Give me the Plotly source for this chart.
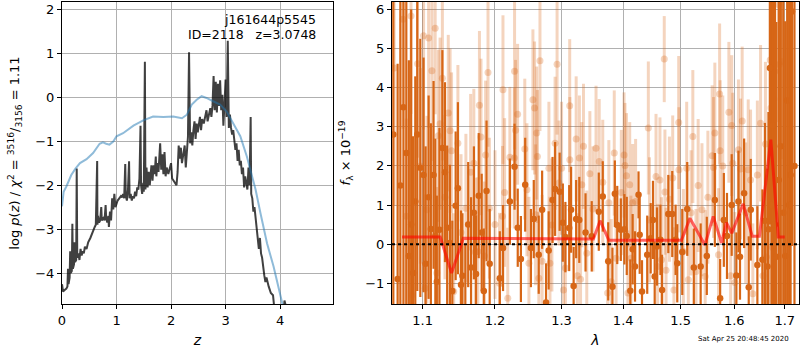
import plotly.graph_objects as go
import math

# ---------------- left panel data ----------------
z_pz = [0.00,0.02,0.05,0.08,0.10,0.11,0.12,0.14,0.15,0.16,0.18,0.19,0.20,0.22,0.23,0.24,0.26,0.27,0.28,0.30,
        0.32,0.34,0.36,0.38,0.40,0.42,0.45,0.48,0.52,0.56,0.60,0.62,0.645,0.65,0.66,0.68,0.70,0.72,0.73,0.76,
        0.78,0.80,0.81,0.83,0.85,0.86,0.88,0.90,0.92,0.94,0.96,0.98,1.00,1.02,1.05,1.08,1.10,1.12,1.14,1.16,
        1.17,1.19,1.21,1.23,1.24,1.26,1.28,1.30,1.32,1.34,1.36,1.38,1.40,1.42,1.44,1.45,1.47,1.49,1.50,1.52,
        1.53,1.55,1.57,1.59,1.61,1.63,1.64,1.66,1.68,1.70,1.72,1.73,1.75,1.77,1.79,1.80,1.82,1.84,1.86,1.88,
        1.90,1.92,1.95,1.98,2.00,2.02,2.05,2.08,2.10,2.12,2.14,2.16,2.18,2.20,2.22,2.25,2.27,2.29,2.31,2.33,
        2.35,2.37,2.39,2.41,2.43,2.45,2.47,2.49,2.51,2.53,2.55,2.57,2.60,2.63,2.65,2.67,2.70,2.72,2.74,2.76,
        2.78,2.80,2.82,2.84,2.86,2.88,2.90,2.92,2.94,2.96,2.98,3.00,3.02,3.04,3.06,3.08,3.10,3.12,3.14,3.16,
        3.18,3.20,3.22,3.24,3.26,3.28,3.30,3.32,3.34,3.36,3.38,3.40,3.42,3.44,3.46,3.47,3.49,3.51,3.53,3.55,
        3.57,3.59,3.61,3.63,3.65,3.67,3.69,3.71,3.73,3.75,3.79,3.83,3.87,3.89,3.90,4.05,4.08,4.10,4.12]
logp_pz = [-4.25,-4.42,-4.38,-4.35,-4.30,-3.90,-4.25,-4.10,-3.50,-4.00,-3.95,-2.88,-3.90,-3.80,-3.30,-3.75,-3.70,-1.62,-3.65,-3.55,
           -3.70,-3.45,-3.60,-3.50,-3.55,-3.40,-3.45,-3.30,-3.20,-3.05,-2.95,-2.90,-1.45,-2.90,-2.70,-2.85,-2.80,-2.50,-2.80,-2.75,
           -2.80,-2.45,-2.75,-2.85,-2.70,-2.95,-2.60,-2.80,-2.30,-2.55,-2.20,-2.50,-2.40,-2.35,-2.30,-2.25,-2.28,-2.20,-2.30,-1.52,
           -2.25,-2.35,-2.10,-1.46,-2.30,-2.20,-2.35,-2.25,-2.30,-2.15,-2.25,-2.05,-2.10,-1.85,-0.65,-2.00,-2.20,-1.95,-2.15,0.80,
           -2.10,-1.60,-2.05,-1.70,-2.00,-1.60,-1.55,-1.90,-1.55,-1.75,-1.35,-1.80,-1.50,-1.70,-1.40,-1.05,-1.65,-1.30,-1.75,-1.25,
           -1.80,-1.60,-1.75,-1.55,-1.50,-1.85,-1.90,-1.95,-2.00,-1.70,-1.10,-1.40,-1.15,-1.50,-1.35,-1.10,-1.60,-1.20,-0.90,1.02,
           -1.05,-0.80,-1.10,-0.75,-0.55,-0.95,-0.60,-0.80,-0.65,-0.45,-0.75,-0.50,-0.60,-0.45,-0.30,-0.55,-0.40,-0.25,-0.45,-0.20,
           0.48,-0.30,0.35,-0.35,0.30,-0.20,0.38,-0.30,0.05,-0.65,-0.15,0.40,-0.45,1.28,-0.70,-0.40,-0.70,-0.85,-0.75,-1.00,
           -1.20,-1.05,-1.45,-1.20,-1.55,-1.45,-1.75,-1.60,-2.05,-1.80,-1.95,-2.10,-1.60,-2.00,-0.45,-2.20,-2.30,-2.60,-2.50,-2.75,
           -3.00,-3.25,-3.45,-3.20,-3.55,-3.65,-3.90,-4.05,-4.20,-4.10,-4.30,-4.45,-4.50,-4.75,-5.20,-5.20,-4.62,-4.72,-5.20]

z_model = [0.00,0.03,0.08,0.17,0.25,0.33,0.45,0.57,0.69,0.75,0.81,0.87,0.94,1.00,1.12,1.31,1.49,1.67,1.86,2.04,
           2.20,2.29,2.38,2.47,2.56,2.65,2.78,2.90,3.02,3.14,3.27,3.39,3.48,3.55,3.64,3.76,3.88,3.97,4.05,4.10]
logp_model = [-2.48,-2.15,-2.03,-1.77,-1.62,-1.50,-1.41,-1.27,-1.06,-1.03,-1.06,-1.08,-1.01,-0.89,-0.82,-0.65,-0.53,-0.44,-0.45,-0.44,
              -0.48,-0.40,-0.17,-0.06,0.02,-0.02,-0.10,-0.17,-0.33,-0.59,-0.89,-1.35,-1.80,-2.10,-2.64,-3.32,-3.85,-4.30,-4.70,-5.00]

# ---------------- right panel data ----------------
d_wave = [1.062,1.0675,1.071,1.075,1.0787,1.082,1.085,1.0875,1.0904,1.093,1.097,1.1013,1.104,1.108,1.111,1.1146,1.117,1.119,1.1225,1.1265,
          1.130,1.133,1.1367,1.140,1.1446,1.1477,1.152,1.154,1.158,1.162,1.166,1.170,1.173,1.1768,1.181,1.184,1.1879,1.1924,
          1.207,1.2117,1.2217,1.2286,1.2333,1.238,1.2444,1.253,1.2573,1.2648,1.270,1.276,1.280,1.286,1.290,1.297,1.302,1.306,
          1.312,1.315,1.319,1.323,1.328,1.338,1.348,1.3595,1.366,1.375,1.382,1.386,1.390,1.396,1.402,1.406,1.412,1.416,1.420,
          1.426,1.428,1.432,1.441,1.447,1.451,1.454,1.458,1.464,1.467,1.478,1.485,1.491,1.494,1.503,1.512,1.524,1.5366,1.548,
          1.563,1.573,1.580,1.586,1.595,1.604,1.608,1.611,1.619,1.628,1.632,1.645,1.655,1.660,1.665,1.667,1.670,1.673,1.676,
          1.680,1.683,1.688,1.692,1.697,1.701,1.705,1.709,1.712,1.715,1.720]
d_flux = [2.8,-0.89,1.5,3.5,2.33,-0.3,0.5,-0.74,1.09,2.8,1.95,1.77,-0.5,1.2,0.39,1.77,0.2,-0.96,0.37,2.46,
          1.84,0.42,0.03,-1.2,0.98,1.43,-1.04,-0.81,-2.0,0.5,-0.6,0.8,-0.76,1.24,0.3,-1.2,1.36,-0.5,
          -0.87,-0.1,1.09,1.98,0.42,-0.38,1.52,-0.1,0.64,-0.27,0.88,-1.49,-0.16,1.13,1.41,1.34,0.55,0.18,
          0.41,0.88,-1.07,0.64,0.62,0.3,0.2,0.83,1.22,-0.44,-1.09,1.29,0.49,0.37,0.38,0.21,-1.19,-0.13,-0.57,
          1.26,0.24,-1.21,-0.27,0.15,0.62,-0.83,-0.06,0.11,-1.17,0.77,0.77,0.11,-0.49,-0.2,0.9,-0.6,-0.57,-0.3,
          1.13,-1.38,0.62,0.21,1.0,-0.8,1.09,-0.32,1.3,-1.1,0.88,-0.53,-0.4,0.6,-0.57,0.38,4.5,1.0,3.03,
          0.5,-0.32,1.64,2.5,0.8,-0.3,3.67,1.0,1.77,5.95,2.0]
d_err = [6.0,5.5,6.0,5.5,4.5,5.0,5.5,3.5,3.2,4.0,3.3,3.0,3.0,2.6,2.7,2.4,2.5,2.2,2.6,2.5,
         2.3,2.1,2.0,1.8,1.9,2.2,1.9,1.6,2.0,1.6,1.8,1.7,1.5,1.6,1.5,1.6,1.8,1.4,
         1.2,1.1,1.1,1.1,1.0,1.1,1.2,1.0,1.0,1.0,1.0,1.0,1.0,1.1,1.2,1.0,1.0,0.9,
         1.1,1.1,1.0,1.0,1.1,1.0,0.9,1.0,0.9,1.0,1.0,0.85,1.0,0.8,0.9,1.0,0.8,0.9,0.9,
         0.6,1.0,0.8,1.0,0.9,1.0,0.9,1.0,0.9,0.9,1.0,1.1,0.9,1.0,1.1,1.2,1.0,1.1,1.0,
         1.2,1.0,1.2,1.1,1.3,1.1,1.3,1.1,1.4,1.3,1.3,1.5,1.8,2.5,2.5,3.0,4.0,5.5,5.0,
         6.0,6.0,6.0,6.0,6.0,6.0,6.0,6.0,6.0,6.0,6.0]

l_wave = [1.063,1.0744,1.0787,1.0848,1.086,1.0934,1.097,1.1013,1.1036,1.1058,1.108,1.1124,1.1168,1.119,1.121,1.1234,1.1265,1.130,1.1345,1.137,
          1.139,1.142,1.1477,1.152,1.1588,1.1654,1.1699,1.172,1.1755,1.1778,1.180,1.185,1.1866,1.190,1.192,1.200,1.2066,1.2109,1.2116,1.214,
          1.2186,1.2217,1.2282,1.2286,1.2301,1.2331,1.2438,1.247,1.250,1.256,1.2585,1.260,1.2617,1.2628,1.265,1.2667,1.270,1.2804,1.282,1.285,
          1.2899,1.293,1.296,1.300,1.303,1.306,1.3128,1.313,1.323,1.325,1.3282,1.330,1.332,1.3347,1.340,1.345,1.350,1.355,1.3602,1.366,
          1.374,1.376,1.380,1.385,1.388,1.3968,1.4014,1.403,1.4055,1.408,1.411,1.413,1.416,1.421,1.4429,1.445,1.4563,1.459,1.4632,1.466,
          1.4708,1.472,1.474,1.480,1.4858,1.488,1.4966,1.497,1.505,1.511,1.514,1.519,1.5222,1.528,1.532,1.539,1.545,1.550,1.558,1.5605,
          1.563,1.570,1.572,1.573,1.578,1.5896,1.593,1.595,1.597,1.601,1.608,1.612,1.6152,1.622,1.627,1.6316,1.636,1.645,1.6513,1.656,
          1.661,1.663,1.6706,1.672,1.675,1.678,1.680,1.688,1.689,1.693]
l_flux = [4.5,5.75,0.71,5.83,-1.3,4.61,2.0,5.33,-1.13,0.88,5.27,4.43,5.52,-0.74,2.77,3.08,4.24,1.2,3.35,2.9,
          2.39,-1.21,2.58,0.3,0.92,1.84,2.07,-0.2,-0.19,3.55,2.74,-0.3,2.28,4.39,0.92,0.5,-1.0,0.71,3.95,1.32,
          -1.38,2.22,2.2,4.42,2.91,3.32,2.43,1.39,-0.49,3.69,3.48,0.75,2.84,2.24,-0.87,4.69,-0.44,1.94,-0.49,0.49,
          2.58,4.6,1.56,1.94,-1.17,-0.61,3.54,2.16,2.69,-0.81,2.2,-0.9,1.52,2.5,-0.23,1.8,0.9,2.45,2.11,1.58,
          -1.25,1.06,-0.96,2.33,-0.36,1.32,2.28,2.01,1.75,-1.25,1.52,-0.36,1.06,1.09,2.97,0.62,1.73,-0.57,1.64,-0.4,
          4.73,1.33,-0.67,1.15,1.69,-1.17,3.11,1.9,-0.19,1.94,-0.91,0.8,2.75,-0.7,1.5,0.88,-0.83,1.2,2.26,1.96,
          2.84,-0.27,3.84,2.39,2.0,3.37,-0.81,3.03,2.07,-0.98,2.41,1.92,3.15,0.8,1.9,1.64,-1.27,1.77,3.09,-0.81,
          2.56,-0.33,4.71,3.48,-0.08,3.71,4.42,6.12,4.59,4.67]
l_err = [3.5,2.8,2.5,2.5,2.5,2.4,2.5,2.4,2.4,2.4,2.3,2.3,2.2,2.2,2.2,2.2,2.1,2.1,2.0,2.1,
         2.0,2.0,2.0,2.0,1.9,2.0,1.9,1.9,1.9,1.9,2.0,1.9,1.9,1.9,1.8,1.9,1.8,1.8,1.9,1.9,
         1.8,1.8,1.8,2.0,1.8,1.8,1.8,1.7,1.7,1.8,1.7,1.8,1.7,1.7,1.7,1.8,1.7,1.7,1.7,1.7,
         1.7,1.8,1.6,1.7,1.6,1.6,1.7,1.6,1.6,1.6,1.6,1.6,1.6,1.6,1.6,1.6,1.6,1.6,1.6,1.6,
         1.6,1.6,1.6,1.6,1.6,1.6,1.6,1.6,1.6,1.6,1.6,1.6,1.5,1.6,1.7,1.6,1.6,1.6,1.6,1.6,
         1.1,1.6,1.6,1.6,1.6,1.6,1.7,1.6,1.6,1.7,1.6,1.6,1.7,1.6,1.7,1.7,1.7,1.7,1.8,1.8,
         1.8,1.7,1.8,1.8,1.8,1.8,1.8,1.8,1.8,1.8,1.8,1.8,1.9,1.8,1.8,1.8,1.8,1.9,2.0,1.9,
         2.1,2.1,2.2,2.3,2.5,2.5,2.5,3.0,2.5,2.5]

m_wave = [1.0731,1.1236,1.139,1.1552,1.3507,1.3616,1.376,1.5015,1.5169,1.5445,1.560,1.5758,1.585,1.595,1.6172,1.635,1.649,1.6718,1.687,1.700]
m_flux = [0.18,0.18,-0.74,0.15,0.13,0.60,0.10,0.10,0.66,-0.02,0.71,0.03,0.55,0.28,1.03,0.20,0.20,2.67,0.18,0.18]

lam_ticks = [1.1, 1.2, 1.3, 1.4, 1.5, 1.6, 1.7]
lam_range = [1.0603, 1.7294]
z_range = [0, 4.97]
lp_range = [-4.70, 2.16]
f_range = [-1.53, 6.19]

DARK = "rgb(215,102,22)"
LIGHT = "rgba(215,102,22,0.28)"
FONT = "DejaVu Sans"
GRID = "#b0b0b0"

fig = go.Figure()

# left panel
fig.add_trace(go.Scatter(x=z_pz, y=logp_pz, mode="lines", line=dict(color="rgba(0,0,0,0.75)", width=2),
                         xaxis="x", yaxis="y", showlegend=False, hoverinfo="skip"))
fig.add_trace(go.Scatter(x=z_model, y=logp_model, mode="lines", line=dict(color="rgba(31,119,180,0.5)", width=2),
                         xaxis="x", yaxis="y", showlegend=False, hoverinfo="skip"))

# right panel
fig.add_trace(go.Scatter(x=l_wave, y=l_flux, mode="markers",
                         marker=dict(color=LIGHT, size=7, line=dict(width=0)),
                         error_y=dict(type="data", array=l_err, color=LIGHT, thickness=3, width=0),
                         xaxis="x2", yaxis="y2", showlegend=False, hoverinfo="skip"))
fig.add_trace(go.Scatter(x=d_wave, y=d_flux, mode="markers",
                         marker=dict(color=DARK, size=6.5, line=dict(width=0)),
                         error_y=dict(type="data", array=d_err, color=DARK, thickness=2.2, width=0),
                         xaxis="x2", yaxis="y2", showlegend=False, hoverinfo="skip"))
fig.add_trace(go.Scatter(x=m_wave, y=m_flux, mode="lines", line=dict(color="rgba(255,0,0,0.6)", width=3),
                         xaxis="x2", yaxis="y2", showlegend=False, hoverinfo="skip"))

fig.add_shape(type="line", xref="x2 domain", yref="y2", x0=0, x1=1, y0=0, y1=0,
              line=dict(color="black", width=2, dash="dot"), layer="above")

axis_common = dict(showgrid=True, gridcolor=GRID, gridwidth=1, zeroline=False,
                   showline=True, linecolor="black", linewidth=1, mirror=True,
                   ticks="outside", ticklen=4, tickcolor="black", automargin=False,
                   tickfont=dict(family=FONT, size=13, color="black"))

ydom = [1 - 304/350, 1 - 2/350]
fig.update_layout(
    width=800, height=350,
    margin=dict(l=0, r=0, t=0, b=0, autoexpand=False),
    paper_bgcolor="white", plot_bgcolor="white",
    font=dict(family=FONT, color="black"),
    xaxis=dict(domain=[62/800, 333/800], range=z_range, anchor="y",
               tickvals=[0, 1, 2, 3, 4],
               title=dict(text="<i>z</i>", font=dict(family=FONT, size=14), standoff=8),
               **axis_common),
    yaxis=dict(domain=ydom, range=lp_range, anchor="x",
               tickvals=[-4, -3, -2, -1, 0, 1, 2],
               title=dict(text="log <i>p</i>(<i>z</i>) / <i>χ</i><sup>2</sup> = <sup>3516</sup>/<sub>3156</sub> = 1.11",
                          font=dict(family=FONT, size=13), standoff=12),
               **axis_common),
    xaxis2=dict(domain=[392/800, 799/800], type="log",
                range=[math.log10(lam_range[0]), math.log10(lam_range[1])], anchor="y2",
                tickvals=lam_ticks, ticktext=[f"{t:.1f}" for t in lam_ticks],
                title=dict(text="<i>λ</i>", font=dict(family=FONT, size=14), standoff=8),
                **axis_common),
    yaxis2=dict(domain=ydom, range=f_range, anchor="x2",
                tickvals=[-1, 0, 1, 2, 3, 4, 5, 6],
                title=dict(text="<i>f</i><sub>λ</sub> × 10<sup>−19</sup>", font=dict(family=FONT, size=13), standoff=11),
                **axis_common),
)

fig.add_annotation(xref="x domain", yref="y domain", x=0.945, y=0.975, xanchor="right", yanchor="top",
                   text="j161644p5545", showarrow=False, font=dict(family=FONT, size=12.5, color="black"))
fig.add_annotation(xref="x domain", yref="y domain", x=0.945, y=0.925, xanchor="right", yanchor="top",
                   text="ID=2118   z=3.0748", showarrow=False, font=dict(family=FONT, size=12.5, color="black"))
fig.add_annotation(xref="paper", yref="paper", x=743/800, y=1 - 339/350, xanchor="center", yanchor="middle",
                   text="Sat Apr 25 20:48:45 2020", showarrow=False, font=dict(family=FONT, size=7, color="black"))

fig.write_html("out.html", config={"displayModeBar": False},
               post_script="document.body.style.margin='0';document.body.style.overflow='hidden';")
